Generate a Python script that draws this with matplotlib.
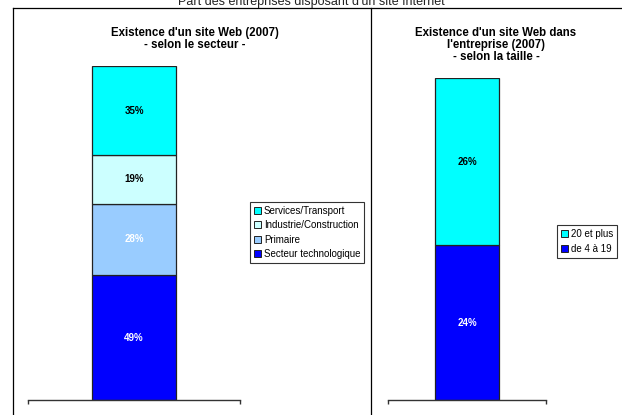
import matplotlib
matplotlib.use("Agg")
import matplotlib.pyplot as plt
from matplotlib.lines import Line2D
from matplotlib.patches import Patch

plt.rcParams['font.family'] = ['Liberation Sans', 'DejaVu Sans']

# Data
suptitle = "Part des entreprises disposant d'un site Internet"
left_title = "Existence d'un site Web (2007)\n- selon le secteur -"
left_cats = ["Secteur technologique", "Primaire", "Industrie/Construction", "Services/Transport"]
left_vals = [49, 28, 19, 35]
left_colors = ["#0000FF", "#99CCFF", "#CCFFFF", "#00FFFF"]
left_txt = ["white", "white", "black", "black"]

right_title = "Existence d'un site Web dans\nl'entreprise (2007)\n- selon la taille -"
right_cats = ["de 4 à 19", "20 et plus"]
right_vals = [24, 26]
right_colors = ["#0000FF", "#00FFFF"]
right_txt = ["white", "black"]

W, H = 622, 415
fig = plt.figure(figsize=(W / 100, H / 100), dpi=100)

def px_axes(x0, x1, ytop, ybot):
    return fig.add_axes([x0 / W, 1 - ybot / H, (x1 - x0) / W, (ybot - ytop) / H])

def stacked(ax, vals, colors, txtcols):
    bottom = 0
    for v, c, tc in zip(vals, colors, txtcols):
        ax.bar(0, v, width=0.4, bottom=bottom, color=c, edgecolor="#222222", linewidth=0.9, zorder=2)
        ax.text(0, bottom + v / 2, f"{v}%", ha="center", va="center", fontsize=7,
                fontweight="bold", color=tc, zorder=3)
        bottom += v
    ax.set_xlim(-0.5, 0.5)
    ax.set_ylim(0, bottom)
    for s in ["top", "right", "left"]:
        ax.spines[s].set_visible(False)
    ax.spines["bottom"].set_color("#333333")
    ax.spines["bottom"].set_linewidth(1.0)
    ax.set_yticks([])
    ax.set_xticks([-0.5, 0.5])
    ax.set_xticklabels([])
    ax.tick_params(axis="x", direction="out", length=3, color="#333333", width=1.0)
    ax.patch.set_alpha(0)

axL = px_axes(28, 240, 66, 400)
stacked(axL, left_vals, left_colors, left_txt)
axR = px_axes(388, 546, 78, 400)
stacked(axR, right_vals, right_colors, right_txt)

# Titles
fig.text(311 / W, 1 - 1.5 / H, suptitle, ha="center", va="center", fontsize=9, color="#222222")
fig.text(195 / W, 1 - 27 / H, left_title, ha="center", va="top", fontsize=8.3,
         fontweight="bold", linespacing=1.0)
fig.text(496 / W, 1 - 27 / H, right_title, ha="center", va="top", fontsize=8.3,
         fontweight="bold", linespacing=1.0)

# Panel borders
for (x0, y0, x1, y1) in [(13, 8, 13, 415), (13, 8, 622, 8), (371, 8, 371, 415)]:
    fig.add_artist(Line2D([x0 / W, x1 / W], [1 - y0 / H, 1 - y1 / H], color="black",
                          linewidth=0.9, transform=fig.transFigure))

# Legends
def legend(cats, colors, x0, y0, x1, y1):
    handles = [Patch(facecolor=c, edgecolor="#222222", linewidth=0.7, label=l)
               for l, c in zip(cats, colors)][::-1]
    leg = fig.legend(handles=handles, loc="center",
                     bbox_to_anchor=((x0 + x1) / 2 / W, 1 - (y0 + y1) / 2 / H),
                     fontsize=7, frameon=True, fancybox=False, handlelength=0.75,
                     handleheight=0.75, handletextpad=0.3, borderpad=0.4,
                     labelspacing=0.45, borderaxespad=0)
    leg.get_frame().set_edgecolor("black")
    leg.get_frame().set_linewidth(0.8)

legend(left_cats, left_colors, 248, 203, 366, 262)
legend(right_cats, right_colors, 556, 228, 618, 255)

fig.savefig("out.png", dpi=100)
